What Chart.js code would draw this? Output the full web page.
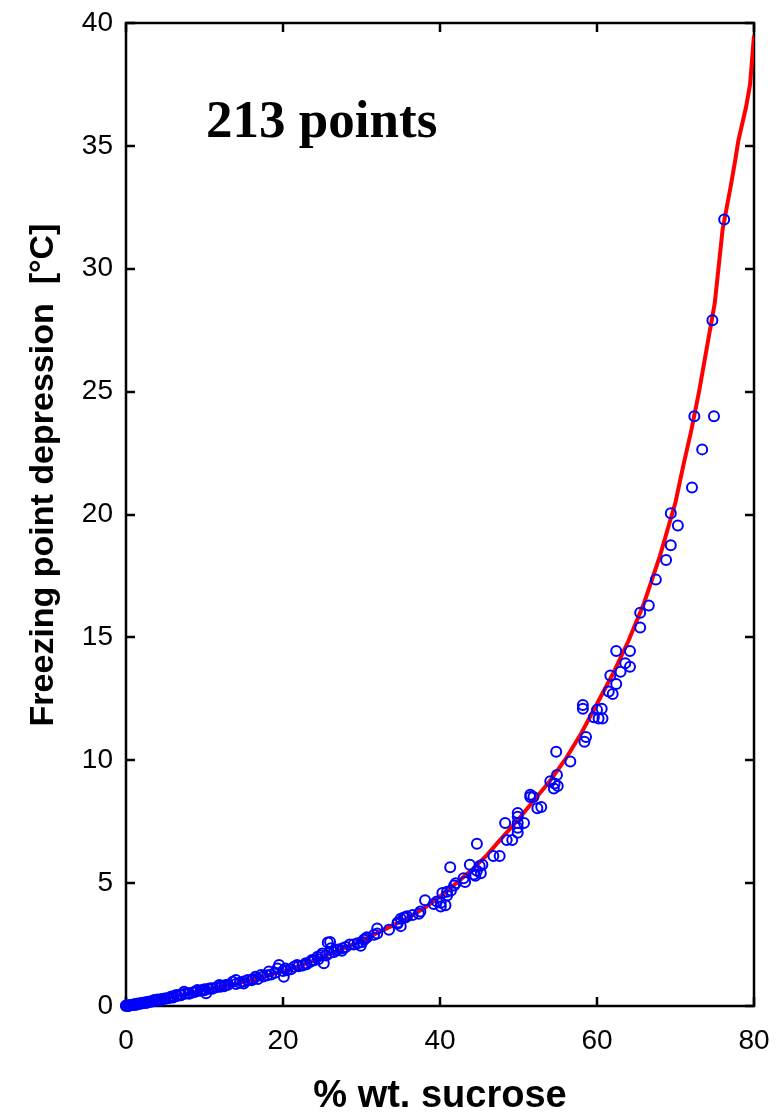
<!DOCTYPE html>
<html>
<head>
<meta charset="utf-8">
<script src="https://cdn.jsdelivr.net/npm/chart.js@4.4.1/dist/chart.umd.min.js"></script>
<style>
  html, body { margin: 0; padding: 0; background: #fff; }
  canvas { display: block; }
</style>
</head>
<body>
<canvas id="c" width="778" height="1113"></canvas>
<script>
// Measured freezing point depression of aqueous sucrose solutions
const sucroseWt = [
  76.2, 74.7, 74.9, 72.4, 73.4, 72.1, 69.4, 70.3, 69.4, 68.8,
  67.5, 66.6, 65.5, 65.5, 62.45, 64.2, 63.6, 64.2, 63.0, 61.7,
  62.45, 61.5, 62.0, 58.2, 58.2, 60.0, 60.6, 59.6, 60.2, 60.7,
  58.6, 58.4, 54.8, 56.6, 54.9, 54.05, 54.6, 54.5, 55.0, 51.5,
  51.5, 51.9, 52.4, 52.9, 49.9, 49.9, 48.3, 49.9, 50.7, 49.9,
  49.9, 48.5, 49.2, 44.7, 46.8, 47.6, 41.3, 43.8, 45.4, 44.7,
  45.2, 44.3, 43.0, 43.2, 41.8, 41.4, 40.3, 40.9, 38.1, 39.2,
  40.1, 40.7, 37.5, 37.3, 35.6, 35.0, 34.6, 35.0, 33.5, 32.0,
  32.0, 30.7, 30.3, 31.6, 30.5, 30.1, 29.9, 28.5, 27.6, 26.0,
  26.1, 25.9, 24.8, 45.05, 44.5, 39.6, 40.9, 40.1, 35.4, 35.8,
  34.6, 42.0, 36.5,
  0, 0, 0.2, 0.4, 0.5, 0.6, 0.8, 1.0, 1.0, 1.2,
  1.5, 1.5, 1.8, 2.0, 2.0, 2.3, 2.5, 2.8, 3.0, 3.2,
  3.5, 3.6, 4.0, 4.0, 4.45, 4.5, 4.9, 5.0, 5.3, 5.7,
  6.0, 6.0, 6.4, 6.5, 7.0, 7.0, 7.4, 7.5, 8.0, 8.05,
  8.5, 9.0, 9.1, 9.5, 9.75, 10.0, 10.0, 10.2, 10.5, 10.8,
  11.0, 11.5, 11.9, 12.0, 12.5, 12.7, 13.0, 13.6, 14.0, 14.0,
  14.5, 15.0, 15.0, 15.5, 16.0, 16.5, 16.8, 17.2, 17.5, 18.0,
  18.2, 18.5, 19.0, 19.3, 19.5, 20.0, 20.1, 20.3, 20.5, 21.0,
  21.4, 21.8, 22.0, 22.5, 22.9, 23.0, 23.5, 23.7, 24.0, 24.4,
  24.5, 25.0, 25.2, 25.5, 25.7, 26.5, 27.0, 27.5, 28.0, 29.0,
  29.5, 0.3, 1.3, 2.6, 3.8, 5.5, 8.8, 12.2, 16.2, 26.8
];
const depression = [
  32.0, 27.9, 24.0, 24.0, 22.65, 21.1, 20.05, 19.55, 18.75, 18.15,
  17.35, 16.3, 16.0, 15.4, 14.45, 14.45, 13.95, 13.8, 13.6, 13.45,
  13.1, 12.8, 12.7, 12.25, 12.1, 12.05, 12.1, 11.75, 11.7, 11.7,
  10.95, 10.75, 10.35, 9.95, 9.4, 9.15, 9.05, 8.85, 8.95, 8.6,
  8.5, 8.5, 8.05, 8.1, 7.85, 7.7, 7.45, 7.45, 7.45, 7.25,
  7.05, 6.75, 6.75, 6.6, 6.1, 6.1, 5.65, 5.75, 5.75, 5.5,
  5.4, 5.35, 5.2, 5.05, 4.9, 4.7, 4.6, 4.5, 4.3, 4.15,
  4.05, 4.1, 3.85, 3.75, 3.6, 3.55, 3.4, 3.25, 3.1, 3.15,
  2.95, 2.8, 2.7, 2.9, 2.75, 2.6, 2.45, 2.5, 2.35, 2.6,
  2.35, 2.15, 2.05, 5.7, 5.3, 4.25, 4.65, 4.2, 3.6, 3.65,
  3.35, 5.0, 3.7,
  0, 0.02, 0.01, 0.03, 0.02, 0.04, 0.05, 0.06, 0.04, 0.08,
  0.1, 0.07, 0.1, 0.12, 0.1, 0.13, 0.15, 0.16, 0.18, 0.17,
  0.2, 0.24, 0.23, 0.26, 0.24, 0.28, 0.31, 0.29, 0.32, 0.38,
  0.35, 0.4, 0.45, 0.41, 0.44, 0.48, 0.58, 0.5, 0.52, 0.5,
  0.55, 0.6, 0.65, 0.62, 0.65, 0.64, 0.68, 0.52, 0.7, 0.72,
  0.7, 0.76, 0.85, 0.78, 0.8, 0.85, 0.86, 0.99, 1.06, 0.9,
  0.95, 0.92, 1.0, 1.06, 1.05, 1.19, 1.1, 1.26, 1.2, 1.25,
  1.4, 1.28, 1.35, 1.53, 1.67, 1.42, 1.19, 1.53, 1.45, 1.5,
  1.6, 1.67, 1.62, 1.65, 1.74, 1.7, 1.8, 1.87, 1.86, 2.0,
  1.9, 2.14, 1.74, 2.05, 2.58, 2.2, 2.3, 2.25, 2.4, 2.5,
  2.55, 0.0, 0.05, 0.12, 0.2, 0.33, 0.58, 0.8, 1.1, 2.28
];

// Fitted model curve
const fitWt = [0, 2, 4, 6, 8, 10, 12, 14, 16, 18, 20, 22, 24, 26, 28, 30, 32, 34, 36, 38,
  40, 42, 44, 46, 48, 50, 52, 54, 56, 58, 60, 62, 64, 66, 68, 70, 71, 72, 73, 74,
  75, 76, 77, 77.6, 78, 79, 79.5, 80];
const fitDepression = [0, 0.12, 0.24, 0.38, 0.52, 0.64, 0.78, 0.91, 1.06, 1.24, 1.42, 1.62, 1.86, 2.12, 2.38, 2.65, 2.97, 3.28, 3.6, 3.98,
  4.45, 4.98, 5.52, 6.15, 6.88, 7.6, 8.38, 9.15, 10.05, 11.1, 12.3, 13.5, 14.85, 16.4, 18.3, 20.5, 22.0, 23.4, 25.0, 26.8,
  28.6, 31.6, 33.3, 34.4, 35.2, 36.6, 37.5, 39.5];

const xTicks = [0, 20, 40, 60, 80];
const yTicks = [0, 5, 10, 15, 20, 25, 30, 35, 40];
const xTitle = '% wt. sucrose';
const yTitle = 'Freezing point depression  [°C]';
const countLabel = sucroseWt.length + ' points';

const SANS = '"Liberation Sans", Arial, sans-serif';
const SERIF = '"Liberation Serif", "Times New Roman", serif';

const points = sucroseWt.map((x, i) => ({ x, y: depression[i] }));
const fit = fitWt.map((x, i) => ({ x, y: fitDepression[i] }));

// Keep the plot box fixed: no extra room reserved for edge tick labels
function noEdgePadding(s) {
  s.paddingLeft = 0; s.paddingRight = 0; s.paddingTop = 0; s.paddingBottom = 0;
}

// Boxed axes with inward ticks, axis titles and the point-count note
const framePlugin = {
  id: 'frame',
  beforeDatasetsDraw(chart) {
    const { ctx, chartArea: a, scales: { x, y } } = chart;
    const L = 9;
    ctx.save();
    ctx.strokeStyle = '#000';
    ctx.lineWidth = 2.5;
    ctx.strokeRect(a.left, a.top, a.right - a.left, a.bottom - a.top);
    ctx.beginPath();
    xTicks.forEach(v => {
      const p = Math.round(x.getPixelForValue(v));
      ctx.moveTo(p, a.bottom); ctx.lineTo(p, a.bottom - L);
      ctx.moveTo(p, a.top); ctx.lineTo(p, a.top + L);
    });
    yTicks.forEach(v => {
      const p = Math.round(y.getPixelForValue(v));
      ctx.moveTo(a.left, p); ctx.lineTo(a.left + L, p);
      ctx.moveTo(a.right, p); ctx.lineTo(a.right - L, p);
    });
    ctx.stroke();
    ctx.restore();
  },
  afterDraw(chart) {
    const { ctx, chartArea: a, scales: { x, y } } = chart;
    ctx.save();
    ctx.fillStyle = '#000';
    // x-axis title
    ctx.font = 'bold 38px ' + SANS;
    ctx.textAlign = 'center';
    ctx.textBaseline = 'alphabetic';
    ctx.fillText(xTitle, (a.left + a.right) / 2, 1107);
    // y-axis title
    ctx.save();
    ctx.translate(53, 475);
    ctx.rotate(-Math.PI / 2);
    ctx.font = 'bold 34px ' + SANS;
    ctx.fillText(yTitle, 0, 0);
    ctx.restore();
    // point count
    ctx.font = 'bold 53px ' + SERIF;
    ctx.textAlign = 'left';
    ctx.fillText(countLabel, x.getPixelForValue(10.2), y.getPixelForValue(35.35));
    ctx.restore();
  }
};

new Chart(document.getElementById('c'), {
  type: 'scatter',
  data: {
    datasets: [
      {
        label: 'Measured',
        data: points,
        pointStyle: 'circle',
        pointRadius: 5,
        pointBorderWidth: 2,
        pointBackgroundColor: 'rgba(0,0,0,0)',
        pointBorderColor: 'rgb(0,0,255)',
        showLine: false,
        clip: false
      },
      {
        label: 'Fit',
        data: fit,
        showLine: true,
        borderColor: 'rgb(255,0,0)',
        borderWidth: 4,
        pointRadius: 0,
        tension: 0,
        fill: false
      }
    ]
  },
  options: {
    responsive: false,
    animation: false,
    devicePixelRatio: 1,
    layout: { padding: { left: 0, right: 24, top: 23, bottom: 0 } },
    plugins: { legend: { display: false }, title: { display: false }, tooltip: { enabled: false } },
    scales: {
      x: {
        type: 'linear',
        min: 0, max: 80,
        afterBuildTicks: s => { s.ticks = xTicks.map(v => ({ value: v })); },
        afterFit: s => { s.height = 107; noEdgePadding(s); },
        grid: { display: false },
        border: { display: false },
        ticks: { color: '#000', padding: 10, font: { family: SANS, size: 28 } }
      },
      y: {
        type: 'linear',
        min: 0, max: 40,
        afterBuildTicks: s => { s.ticks = yTicks.map(v => ({ value: v })); },
        afterFit: s => { s.width = 126; noEdgePadding(s); },
        grid: { display: false },
        border: { display: false },
        ticks: { color: '#000', padding: 5, font: { family: SANS, size: 28 } }
      }
    }
  },
  plugins: [framePlugin]
});
</script>
</body>
</html>
